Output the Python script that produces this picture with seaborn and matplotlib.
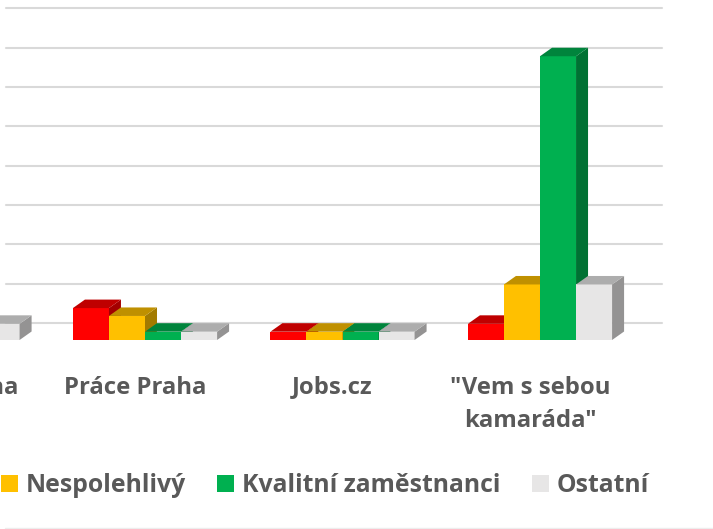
import numpy as np
import pandas as pd
import seaborn as sns
import matplotlib.pyplot as plt
from matplotlib.patches import Polygon, Patch
from matplotlib.lines import Line2D
from matplotlib.colors import to_rgb

# Data (prvni kategorie je v originale oriznuta)
kanaly = ['Inzerce Praha', 'Práce Praha', 'Jobs.cz', '"Vem s sebou\nkamaráda"']
typy = ['Nedostavil se', 'Nespolehlivý', 'Kvalitní zaměstnanci', 'Ostatní']
nedostavil_se = [2, 3, 0, 1]
nespolehlivy = [1, 2, 0, 6]
kvalitni = [3, 0, 0, 35]
ostatni = [1, 0, 0, 6]
barvy = ['#FF0000', '#FFC000', '#00B050', '#E7E6E6']
mrizka = list(range(0, 45, 5))

df = pd.DataFrame({
    'Kanál': kanaly * len(typy),
    'Typ': np.repeat(typy, len(kanaly)),
    'Počet': nedostavil_se + nespolehlivy + kvalitni + ostatni,
})

sns.set_theme(style='white')
plt.rcParams['font.family'] = ['Open Sans', 'DejaVu Sans']
seda = '#595959'

W, H = 713, 529
fig = plt.figure(figsize=(W / 100, H / 100), dpi=100)
# osy = predni rovina 3D grafu, vlevo oriznuto
ax = fig.add_axes([-6 / W, (H - 340) / H, 656 / W, 339 / H])
ax.patch.set_visible(False)

sns.barplot(data=df, x='Kanál', y='Počet', hue='Typ', order=kanaly, hue_order=typy,
            palette=barvy, saturation=1, width=0.73, gap=0, errorbar=None,
            legend=False, linewidth=0, ax=ax)

x_lim = (0.2354, 3.557)
y_lim = (-1.055, 42.02)
podlaha = y_lim[0]
dx = 12 / 197.5      # hloubka sloupce v datech
dy = 8.5 / 7.87

# 3D efekt - bocni a horni stena
for i, p in enumerate(sorted(ax.patches, key=lambda p: p.get_x())):
    x0 = p.get_x()
    x1 = x0 + p.get_width()
    top = p.get_y() + p.get_height()
    p.set_y(podlaha)
    p.set_height(top - podlaha)
    p.set_clip_on(False)
    c = np.array(to_rgb(p.get_facecolor()))
    z = 3 + i
    p.set_zorder(z)
    bok = Polygon([(x1, podlaha), (x1 + dx, podlaha + dy), (x1 + dx, top + dy), (x1, top)],
                  closed=True, facecolor=c * 0.64, lw=0, zorder=z, clip_on=False)
    vrch = Polygon([(x0, top), (x0 + dx, top + dy), (x1 + dx, top + dy), (x1, top)],
                   closed=True, facecolor=c * 0.75, lw=0, zorder=z, clip_on=False)
    ax.add_patch(bok)
    ax.add_patch(vrch)

# mrizka na zadni stene
for g in mrizka:
    ax.plot([x_lim[0] + dx, x_lim[1] + dx], [g + dy, g + dy], color='#D9D9D9',
            lw=1.5, zorder=1, clip_on=False)

ax.set_xlim(*x_lim)
ax.set_ylim(*y_lim)
ax.set_xlabel('')
ax.set_ylabel('')
ax.tick_params(length=0, labelbottom=False, labelleft=False)
for s in ax.spines.values():
    s.set_visible(False)

# popisky kategorii
for i, k in enumerate(kanaly):
    ax.text(i - 10 / 197.5, -(375.5 - 340) / 339, k, transform=ax.get_xaxis_transform(),
            ha='center', va='top', fontsize=17.2, fontweight='bold', color=seda,
            linespacing=1.55)

handles = [Patch(facecolor=c, edgecolor='none') for c in barvy]
fig.legend(handles, typy, loc='center right', bbox_to_anchor=(649 / W, (H - 486) / H),
           ncol=4, frameon=False, prop={'weight': 'bold', 'size': 17.8}, labelcolor=seda,
           handlelength=0.69, handleheight=0.69, handletextpad=0.32, columnspacing=1.26,
           borderpad=0, borderaxespad=0)

fig.add_artist(Line2D([5 / W, 1], [1.5 / H, 1.5 / H], color='#EDEDED', lw=1))

fig.savefig('out.png', dpi=100)
